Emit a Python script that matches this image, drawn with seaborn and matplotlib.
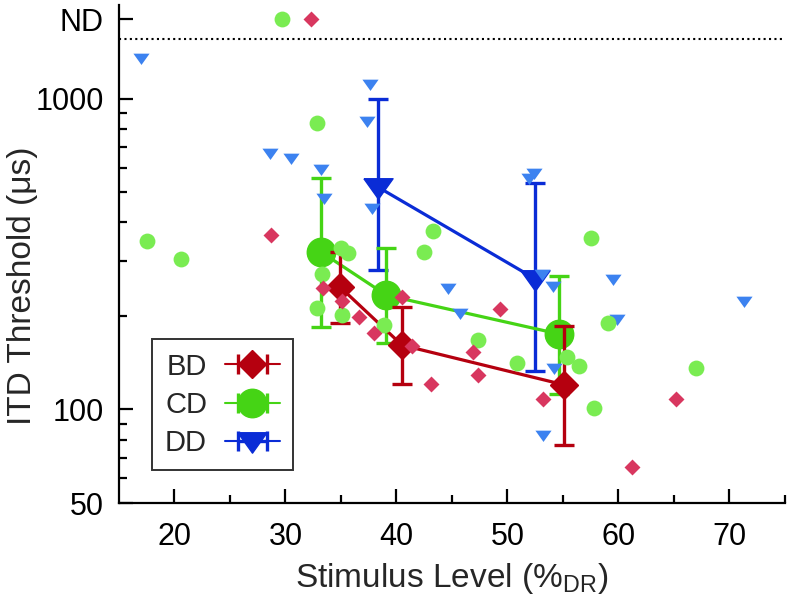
import numpy as np
import seaborn as sns
import matplotlib
matplotlib.use("Agg")
from matplotlib import pyplot as plt
from matplotlib.ticker import FixedLocator, NullFormatter

# ND = "not determined", drawn above the dotted line
ND = 1800
ND_LINE = 1550

# group means with error bar limits (lo / hi)
bd_x = [34.9, 40.5, 55.1]
bd_y = [248, 161, 120]
bd_lo = [189, 121, 77]
bd_hi = [321, 213, 185]

cd_x = [33.2, 39.1, 54.6]
cd_y = [321, 233, 175]
cd_lo = [184, 164, 112]
cd_hi = [556, 330, 268]

dd_x = [38.3, 52.5]
dd_y = [520, 263]
dd_lo = [281, 133]
dd_hi = [1000, 536]

# individual thresholds
bd_ind_x = [32.3, 28.7, 33.4, 35.1, 36.6, 38.0, 40.5, 41.4, 43.1, 49.3, 46.9, 47.3, 53.2, 65.2, 61.2]
bd_ind_y = [ND, 364, 245, 223, 198, 176, 230, 160, 121, 210, 153, 129, 108, 108, 65.5]

cd_ind_x = [29.7, 17.5, 20.6, 32.8, 35.0, 35.6, 33.3, 32.8, 35.1, 38.9, 42.5, 43.3, 57.5, 47.3,
            50.9, 55.4, 56.4, 57.8, 59.1, 67.0]
cd_ind_y = [ND, 348, 305, 837, 330, 319, 272, 212, 201, 187, 321, 375, 356, 167,
            141, 147, 138, 101, 189, 136]

dd_ind_x = [17.0, 28.6, 30.5, 33.2, 33.5, 37.6, 37.3, 37.8, 44.6, 45.7, 52.4, 51.9, 53.1, 54.1,
            59.5, 59.9, 71.3, 54.2, 53.2]
dd_ind_y = [1346, 670, 645, 594, 480, 1117, 849, 445, 245, 204, 577, 556, 272, 249,
            263, 195, 224, 136, 83]

y_ticks = [50, 100, 1000, ND]
y_tick_labels = ["50", "100", "1000", "ND"]
x_ticks = [20, 30, 40, 50, 60, 70]

BD_DARK, BD_LIGHT = "#b5000f", "#d8375f"
CD_DARK, CD_LIGHT = "#45d415", "#7aec52"
DD_DARK, DD_LIGHT = "#0a2cd6", "#3c82f0"

# flattened down-pointing triangle like the original
tri = [(-1, 0.6), (1, 0.6), (0, -0.8), (-1, 0.6)]

sns.set_theme(style="ticks")
plt.rcParams["font.family"] = ["Liberation Sans", "DejaVu Sans"]
plt.rcParams["mathtext.default"] = "regular"

fig = plt.figure(figsize=(7.89, 6.07), dpi=100)
ax = fig.add_axes([0.1508, 0.1713, 0.8441, 0.8205])


def draw_means(x, y, lo, hi, color, marker, ms, z):
    y = np.array(y, dtype=float)
    err = [y - np.array(lo), np.array(hi) - y]
    ax.errorbar(x, y, yerr=err, color=color, marker=marker, ms=ms, lw=2.3, mec=color,
                elinewidth=2.4, capsize=7.5, capthick=2.4, zorder=z)


draw_means(dd_x, dd_y, dd_lo, dd_hi, DD_DARK, tri, 21, 2)
draw_means(cd_x, cd_y, cd_lo, cd_hi, CD_DARK, "o", 20.5, 3)
draw_means(bd_x, bd_y, bd_lo, bd_hi, BD_DARK, "D", 14, 4)

sns.scatterplot(x=dd_ind_x, y=dd_ind_y, marker=tri, s=135, color=DD_LIGHT, linewidth=0, ax=ax, zorder=5)
sns.scatterplot(x=cd_ind_x, y=cd_ind_y, marker="o", s=130, color=CD_LIGHT, linewidth=0, ax=ax, zorder=6)
sns.scatterplot(x=bd_ind_x, y=bd_ind_y, marker="D", s=66, color=BD_LIGHT, linewidth=0, ax=ax, zorder=7)

ax.axhline(ND_LINE, color="black", ls=(0, (1, 1.6)), lw=1.5, zorder=1)

ax.set_yscale("log")
ax.set_xlim(15, 75)
ax.set_ylim(50, 2000)
ax.yaxis.set_major_locator(FixedLocator(y_ticks))
ax.set_yticklabels(y_tick_labels)
ax.yaxis.set_minor_locator(FixedLocator([60, 70, 80, 90, 200, 300, 400, 500, 600, 700, 800, 900]))
ax.yaxis.set_minor_formatter(NullFormatter())
ax.xaxis.set_major_locator(FixedLocator(x_ticks))
ax.xaxis.set_minor_locator(FixedLocator([25, 35, 45, 55, 65, 75]))

ax.tick_params(which="both", direction="in", width=1.6, colors="black", labelsize=22)
ax.tick_params(which="major", length=10)
ax.tick_params(which="minor", length=6)
ax.tick_params(axis="x", which="both", pad=14)
ax.tick_params(axis="y", which="both", pad=11)

for side in ["top", "right"]:
    ax.spines[side].set_visible(False)
for side in ["left", "bottom"]:
    ax.spines[side].set_linewidth(1.6)
    ax.spines[side].set_color("black")

ax.set_xlabel("Stimulus Level (%$_{DR}$)", fontsize=24, labelpad=6)
ax.set_ylabel("ITD Threshold (\u03bcs)", fontsize=24)
ax.yaxis.set_label_coords(-0.122, 0.436)

# legend proxies with horizontal error bars
handles = []
for color, marker, ms in [(BD_DARK, "D", 14), (CD_DARK, "o", 20.5), (DD_DARK, tri, 21)]:
    h = ax.errorbar([np.nan], [np.nan], xerr=[1], color=color, marker=marker, ms=ms, mec=color,
                    elinewidth=2.4, capsize=7.5, capthick=2.4)
    handles.append(h)
leg = ax.legend(handles, ["BD", "CD", "DD"], loc="lower left", bbox_to_anchor=(0.0495, 0.066),
                borderaxespad=0, markerfirst=False, fontsize=21, frameon=True, fancybox=False,
                handlelength=1.9, labelspacing=0.35, borderpad=0.45, handletextpad=0.6)
leg.get_frame().set_edgecolor("black")
leg.get_frame().set_linewidth(1.4)

fig.savefig("out.png", dpi=100)
